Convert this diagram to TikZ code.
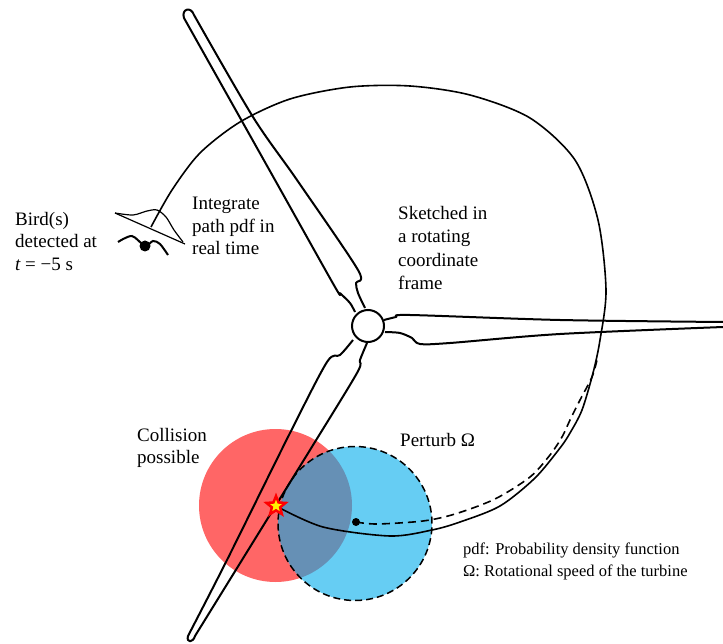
\documentclass[tikz,border=0pt]{standalone}
\usepackage{fontspec}
\setmainfont{Liberation Serif}
\usetikzlibrary{shapes.geometric}
\definecolor{hitRed}{RGB}{255,102,102}
\definecolor{skyBlue}{RGB}{0,172,235}

\begin{document}
\begin{tikzpicture}[x=1pt, y=-1pt,
    blade/.style={line width=2pt, line join=round},
    track/.style={line width=1.6pt},
    lbl/.style={anchor=north west, inner sep=0pt, align=left,
      font=\fontsize{19}{22.5}\selectfont}]
  \useasboundingbox (0,0) rectangle (723,644);
  % collision zone and perturbed zone
  \fill[hitRed] (275.5,505.5) circle (76.5pt);
  \fill[skyBlue, opacity=0.6] (355,523.5) circle (77pt);
  \draw[line width=1.5pt, dash pattern=on 7pt off 4pt] (355,523.5) circle (77pt);
  \coordinate (hit) at (276,506);
  \coordinate (pert) at (356,522);
  \coordinate (start) at (151,227);
  \coordinate (merge) at (597,360);
  % turbine blades
  \draw[blade] plot[smooth, tension=0.5] coordinates {(355,312) (350,303) (340,293)
    (335,287) (275,180) (184,18)} .. controls (181,9) and (191,6) .. (194,15)
    -- plot[smooth, tension=0.5] coordinates {(194,15) (253,117) (297,180)
    (358,270) (356,283) (358,293) (365,308)};
  \draw[blade] plot[smooth, tension=0.5] coordinates {(353,340) (340,355) (327,362)
    (290,433) (227,560) (188,636)} .. controls (186,643) and (193,643) .. (195,636)
    -- plot[smooth, tension=0.5] coordinates {(195,636) (242,560) (310,450)
    (357,373) (360,360) (367,343)};
  \draw[blade] plot[smooth, tension=0.5] coordinates {(384,320) (396,317) (410,315)
    (560,320) (723,322)};
  \draw[blade] plot[smooth, tension=0.5] coordinates {(385,332) (400,333) (412,338)
    (420,344) (450,343) (560,334) (723,327)};
  \node[circle, draw, fill=white, line width=2pt, minimum size=32pt, inner sep=0pt] (hub) at (368,326) {};
  % bird path, pdf and bird
  \draw[line width=1.2pt] (115,213) -- (185,244);
  \draw[line width=1.2pt] plot[smooth] coordinates {(115,213) (133,215) (147,211)
    (157,210) (166,217) (174,230) (183,242)};
  \draw[line width=2pt] plot[smooth] coordinates {(118,242) (132,236) (145,246)
    (153,241) (160,244) (168,255)};
  \node[circle, fill, inner sep=0pt, minimum size=11pt] (bird) at (145,246) {};
  \draw[track] plot[smooth] coordinates {(start) (172,190) (200,153) (240,122)
    (290,99) (350,87) (410,86) (470,95) (530,118) (575,160) (598,220) (606,290)
    (600,340) (593,373) (582,410) (570,433) (560,448) (535,478) (500,506)
    (460,522) (432,530) (390,536) (323,527) (hit)};
  \draw[track, dash pattern=on 8pt off 5pt] plot[smooth] coordinates {(pert) (377,524)
    (423,521) (455,514) (495,499) (530,477) (550,455) (562,437) (570,420)
    (580,400) (592,377) (merge)};
  \node[circle, fill, inner sep=0pt, minimum size=8pt] (pertdot) at (pert) {};
  \node[star, star points=5, star point ratio=2.3, fill=yellow, draw=red,
    line width=2.5pt, minimum size=20pt, inner sep=0pt] (hitstar) at (hit) {};
  % labels
  \node[lbl] (birdtxt) at (15,212) {Bird(s)\\detected at\\{\itshape t} = −5 s};
  \node[lbl] (pdftxt) at (192,197) {Integrate\\path pdf in\\real time};
  \node[lbl, font=\fontsize{19}{23.5}\selectfont] (frametxt) at (398,206)
    {Sketched in\\a rotating\\coordinate\\frame};
  \node[lbl] (hittxt) at (137,428) {Collision\\possible};
  \node[lbl] (perttxt) at (400,433) {Perturb Ω};
  \node[lbl, font=\fontsize{16.5}{21.5}\selectfont] (legend) at (463,543)
    {pdf: Probability density function\\Ω: Rotational speed of the turbine};
\end{tikzpicture}
\end{document}
